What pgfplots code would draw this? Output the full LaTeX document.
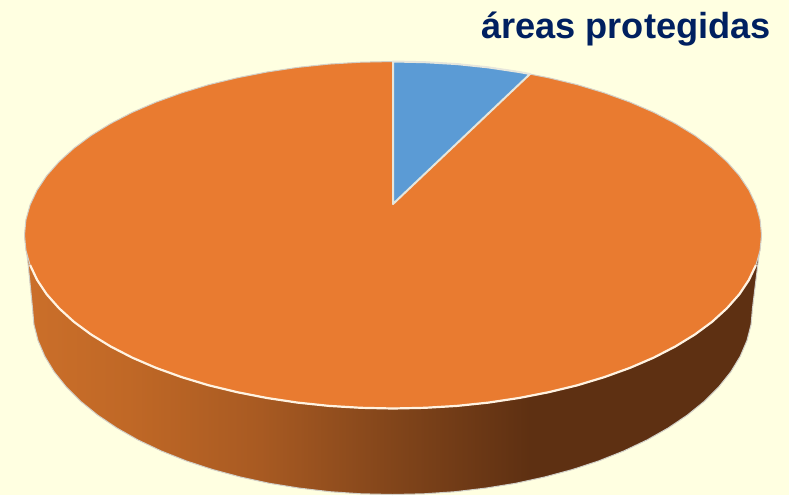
\documentclass[border=0pt]{standalone}
\usepackage{pgfplots}
\pgfplotsset{compat=1.18}
\usepackage{fontspec}
\setmainfont{Liberation Sans}

\definecolor{paper}{HTML}{FFFFE1}
\definecolor{titleblue}{HTML}{002060}
\definecolor{topor}{HTML}{E97B30}
\definecolor{slice}{HTML}{5B9BD5}
\definecolor{rim}{HTML}{D2D0C8}
\definecolor{edge}{HTML}{FFF3E2}
\definecolor{sliceedge}{HTML}{E6E6DC}
\definecolor{w1}{HTML}{CB6F2A}
\definecolor{w2}{HTML}{C06826}
\definecolor{w3}{HTML}{A85A22}
\definecolor{w4}{HTML}{80441A}
\definecolor{w5}{HTML}{5E3012}
% path box maps to 25bp..75bp of the shading
\pgfdeclarehorizontalshading{wall}{100bp}{
  color(0bp)=(w1); color(25bp)=(w1); color(32bp)=(w2); color(41bp)=(w3);
  color(50.4bp)=(w4); color(59.3bp)=(w5); color(100bp)=(w5)}

\begin{document}
\begin{tikzpicture}
\begin{axis}[
  scale only axis,
  width=789pt,
  height=495pt,
  xmin=0, xmax=789,
  ymin=0, ymax=495,
  y dir=reverse,
  axis lines=none,
  ticks=none,
  axis background/.style={fill=paper},
]
% side wall, left to right along the lower edge
\addplot[shading=wall, draw=rim, line width=1pt, line join=round] coordinates {
  (24.5,235) (28,263) (32.5,308) (33.9,324.3) (38,340.4) (44.8,356.3) (54.2,371.8)
  (66.2,386.8) (80.7,401.3) (97.6,415) (116.7,427.9) (137.9,439.9) (161.1,450.9)
  (186,460.8) (212.5,469.5) (240.4,477) (269.4,483.3) (299.3,488.1) (330,491.7)
  (361.1,493.8) (392.5,494.5) (423.9,493.8) (455,491.7) (485.7,488.1) (515.6,483.3)
  (544.6,477) (572.5,469.5) (599,460.8) (623.9,450.9) (647.1,439.9) (668.3,427.9)
  (687.4,415) (704.3,401.3) (718.8,386.8) (730.8,371.8) (740.2,356.3) (747,340.4)
  (751.1,324.3) (752.5,308) (758,263) (761.5,235)
} -- cycle;
% top face
\addplot[fill=topor, draw=rim, line width=1pt, line join=round] coordinates {
  (24.5,235) (25.9,219.9) (30.1,204.9) (37.1,190.1) (46.7,175.7) (59.1,161.7)
  (73.9,148.3) (91.1,135.5) (110.7,123.5) (132.4,112.3) (156.1,102.1) (181.6,92.9)
  (208.7,84.7) (237.3,77.8) (267,72) (297.6,67.4) (329,64.1) (360.9,62.2) (393,61.5)
  (425.1,62.2) (457,64.1) (488.4,67.4) (519,72) (548.7,77.8) (577.3,84.7) (604.4,92.9)
  (629.9,102.1) (653.6,112.3) (675.3,123.5) (694.9,135.5) (712.1,148.3) (726.9,161.7)
  (739.3,175.7) (748.9,190.1) (755.9,204.9) (760.1,219.9) (761.5,235)
  (760.1,250.1) (755.9,265.1) (748.9,279.9) (739.3,294.3) (726.9,308.3) (712.1,321.8)
  (694.9,334.5) (675.3,346.5) (653.6,357.7) (629.9,367.9) (604.4,377.1) (577.3,385.3)
  (548.7,392.2) (519,398) (488.4,402.6) (457,405.9) (425.1,407.8) (393,408.5)
  (360.9,407.8) (329,405.9) (297.6,402.6) (267,398) (237.3,392.2) (208.7,385.3)
  (181.6,377.1) (156.1,367.9) (132.4,357.7) (110.7,346.5) (91.1,334.5) (73.9,321.8)
  (59.1,308.3) (46.7,294.3) (37.1,279.9) (30.1,265.1) (25.9,250.1)
} -- cycle;
% bright front edge of the top face
\addplot[draw=edge, line width=2.2pt, line join=round] coordinates {
  (30.1,265.1) (37.1,279.9) (46.7,294.3) (59.1,308.3) (73.9,321.8) (91.1,334.5)
  (110.7,346.5) (132.4,357.7) (156.1,367.9) (181.6,377.1) (208.7,385.3) (237.3,392.2)
  (267,398) (297.6,402.6) (329,405.9) (360.9,407.8) (393,408.5) (425.1,407.8) (457,405.9)
  (488.4,402.6) (519,398) (548.7,392.2) (577.3,385.3) (604.4,377.1) (629.9,367.9)
  (653.6,357.7) (675.3,346.5) (694.9,334.5) (712.1,321.8) (726.9,308.3) (739.3,294.3)
  (748.9,279.9) (755.9,265.1)
};
% small slice
\addplot[fill=slice, draw=sliceedge, line width=2pt, line join=round] coordinates {
  (393,204) (393,61.5) (425.1,62.2) (457,64.1) (488.4,67.4) (519,72) (530,74)
} -- cycle;
\node[anchor=base east, inner sep=0pt, text=titleblue, font=\fontsize{36.2}{40}\selectfont\bfseries]
  at (axis cs:771,39) {áreas protegidas};
\end{axis}
\end{tikzpicture}
\end{document}
